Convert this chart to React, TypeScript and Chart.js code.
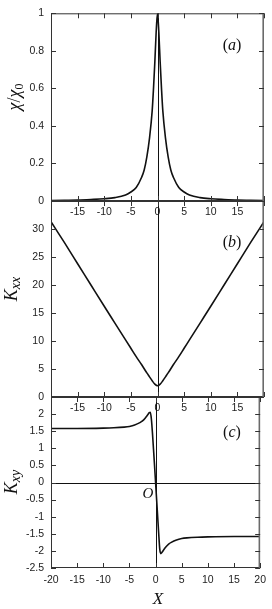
import React, { useEffect, useRef } from 'react';
import { Chart, registerables } from 'chart.js';
Chart.register(...registerables);

// ---------- data ----------
const xTicks = [-20, -15, -10, -5, 0, 5, 10, 15, 20];

const xA = [-20, -17.5, -15, -12.5, -10, -8, -6, -5, -4, -3, -2.5, -2, -1.5, -1, -0.75, -0.5, -0.25, 0,
  0.25, 0.5, 0.75, 1, 1.5, 2, 2.5, 3, 4, 5, 6, 8, 10, 12.5, 15, 17.5, 20];
const chiValues = [0.003, 0.004, 0.005, 0.008, 0.012, 0.018, 0.032, 0.048, 0.072, 0.125, 0.165, 0.235, 0.335, 0.48, 0.6, 0.74, 0.9, 1,
  0.9, 0.74, 0.6, 0.48, 0.335, 0.235, 0.165, 0.125, 0.072, 0.048, 0.032, 0.018, 0.012, 0.008, 0.005, 0.004, 0.003];

const xB = [-20, -17.5, -15, -12.5, -10, -8, -6, -5, -4, -3, -2, -1.5, -1, -0.5, 0,
  0.5, 1, 1.5, 2, 3, 4, 5, 6, 8, 10, 12.5, 15, 17.5, 20];
const kxxValues = [31.3, 27.6, 23.8, 20.0, 16.2, 13.2, 10.2, 8.7, 7.2, 5.8, 4.3, 3.6, 2.9, 2.3, 2.0,
  2.3, 2.9, 3.6, 4.3, 5.8, 7.2, 8.7, 10.2, 13.2, 16.2, 20.0, 23.8, 27.6, 31.3];

const xC = [-20, -15, -10, -8, -6, -5, -4, -3, -2.5, -2, -1.5, -1.2, -1, -0.8, -0.6, -0.4, -0.2, 0,
  0.2, 0.4, 0.6, 0.8, 1, 1.2, 1.5, 2, 2.5, 3, 4, 5, 6, 8, 10, 15, 20];
const kxyValues = [1.58, 1.58, 1.59, 1.6, 1.62, 1.64, 1.68, 1.75, 1.8, 1.88, 1.98, 2.04, 2.05, 1.85, 1.45, 0.98, 0.5, 0,
  -0.5, -1.0, -1.5, -1.95, -2.08, -2.05, -1.98, -1.88, -1.8, -1.75, -1.68, -1.64, -1.62, -1.6, -1.59, -1.58, -1.58];

// ---------- styling ----------
const SANS = '"Liberation Sans", Arial, Helvetica, sans-serif';
const SERIF = '"Liberation Serif", "Times New Roman", serif';
const INK = '#111';
const AXIS = '#333';

type Part = { t: string; italic?: boolean; size: number; dy?: number };

function drawParts(ctx: CanvasRenderingContext2D, parts: Part[], cx: number, cy: number, base: number, rotate: boolean) {
  ctx.save();
  ctx.translate(cx, cy);
  if (rotate) ctx.rotate(-Math.PI / 2);
  const widths = parts.map((p) => {
    ctx.font = `${p.italic ? 'italic ' : ''}${p.size}px ${SERIF}`;
    return ctx.measureText(p.t).width;
  });
  const total = widths.reduce((a, b) => a + b, 0);
  let x = -total / 2;
  ctx.textAlign = 'left';
  ctx.textBaseline = 'alphabetic';
  ctx.fillStyle = INK;
  parts.forEach((p, i) => {
    ctx.font = `${p.italic ? 'italic ' : ''}${p.size}px ${SERIF}`;
    ctx.fillText(p.t, x, base + (p.dy || 0));
    x += widths[i];
  });
  ctx.restore();
}

type Label = { parts: Part[]; x: number; y: number; base: number; rotate: boolean };

function makeDecor(labels: Label[], hZero: boolean) {
  return {
    id: 'decor',
    beforeDatasetsDraw(chart: any) {
      const { ctx, chartArea } = chart;
      const xs = chart.scales.x;
      const ys = chart.scales.y;
      ctx.save();
      ctx.strokeStyle = INK;
      ctx.lineWidth = 1;
      const x0 = Math.round(xs.getPixelForValue(0)) + 0.5;
      ctx.beginPath();
      ctx.moveTo(x0, chartArea.top);
      ctx.lineTo(x0, chartArea.bottom);
      ctx.stroke();
      if (hZero) {
        const y0 = Math.round(ys.getPixelForValue(0)) + 0.5;
        ctx.beginPath();
        ctx.moveTo(chartArea.left, y0);
        ctx.lineTo(chartArea.right, y0);
        ctx.stroke();
      }
      ctx.restore();
    },
    afterDraw(chart: any) {
      const { ctx, chartArea } = chart;
      const { left, right, top, bottom } = chartArea;
      const xs = chart.scales.x;
      const ys = chart.scales.y;
      ctx.save();
      ctx.strokeStyle = AXIS;
      ctx.lineWidth = 1;
      ctx.beginPath();
      ctx.moveTo(left + 0.5, top);
      ctx.lineTo(left + 0.5, bottom);
      ctx.moveTo(left, top + 0.5);
      ctx.lineTo(right, top + 0.5);
      ctx.moveTo(left, bottom - 0.5);
      ctx.lineTo(right, bottom - 0.5);
      ctx.stroke();
      ctx.strokeStyle = '#6a6a6a';
      ctx.lineWidth = 1.6;
      ctx.beginPath();
      ctx.moveTo(right - 0.8, top);
      ctx.lineTo(right - 0.8, bottom);
      ctx.stroke();
      // inward ticks
      ctx.strokeStyle = AXIS;
      ctx.lineWidth = 1;
      const L = 5;
      ctx.beginPath();
      xs.ticks.forEach((t: any) => {
        const px = Math.round(xs.getPixelForValue(t.value)) + 0.5;
        ctx.moveTo(px, bottom);
        ctx.lineTo(px, bottom - L);
        ctx.moveTo(px, top);
        ctx.lineTo(px, top + L);
      });
      ys.ticks.forEach((t: any) => {
        const py = Math.round(ys.getPixelForValue(t.value)) + 0.5;
        ctx.moveTo(left, py);
        ctx.lineTo(left + L, py);
        ctx.moveTo(right, py);
        ctx.lineTo(right - L, py);
      });
      ctx.stroke();
      ctx.restore();
      labels.forEach((lb) => drawParts(ctx, lb.parts, lb.x, lb.y, lb.base, lb.rotate));
    },
  };
}

const fmt = (v: number) => String(Math.round(v * 100) / 100);

type PanelCfg = {
  xs: number[];
  ys: number[];
  yMin: number;
  yMax: number;
  yStep: number;
  hideTopY: boolean;
  xLabelsAll: boolean;
  padTop: number;
  padBottom: number;
  xTickPad: number;
  labels: Label[];
  hZero: boolean;
};

function makeConfig(c: PanelCfg): any {
  const data = c.xs.map((x, i) => ({ x, y: c.ys[i] }));
  return {
    type: 'line',
    data: {
      datasets: [
        {
          data,
          borderColor: INK,
          borderWidth: 1.6,
          pointRadius: 0,
          fill: false,
          cubicInterpolationMode: 'monotone',
        },
      ],
    },
    options: {
      responsive: false,
      animation: false,
      devicePixelRatio: 1,
      events: [],
      layout: { padding: { left: 0, right: 8, top: c.padTop, bottom: c.padBottom } },
      plugins: { legend: { display: false }, tooltip: { enabled: false }, title: { display: false } },
      scales: {
        x: {
          type: 'linear',
          min: -20,
          max: 20,
          afterBuildTicks: (s: any) => {
            s.ticks = xTicks.map((v) => ({ value: v }));
          },
          ticks: {
            autoSkip: false,
            maxRotation: 0,
            minRotation: 0,
            padding: c.xTickPad,
            color: '#222',
            font: { family: SANS, size: 10.5 },
            callback: (v: number) => (c.xLabelsAll || Math.abs(v) < 20 ? fmt(v) : ''),
          },
          grid: { display: false, drawTicks: false },
          border: { display: false },
          afterFit: (s: any) => {
            s.height = 20;
          },
        },
        y: {
          type: 'linear',
          min: c.yMin,
          max: c.yMax,
          ticks: {
            stepSize: c.yStep,
            autoSkip: false,
            padding: 7,
            color: '#222',
            font: { family: SANS, size: 10.5 },
            callback: (v: number) => (c.hideTopY && Math.abs(v - c.yMax) < 1e-6 ? '' : fmt(v)),
          },
          grid: { display: false, drawTicks: false },
          border: { display: false },
          afterFit: (s: any) => {
            s.width = 51;
          },
        },
      },
    },
    plugins: [makeDecor(c.labels, c.hZero)],
  };
}

const H = 609;
const W = 272;

export default function App() {
  const refA = useRef<HTMLCanvasElement>(null);
  const refB = useRef<HTMLCanvasElement>(null);
  const refC = useRef<HTMLCanvasElement>(null);

  useEffect(() => {
    const panelLabel = (letter: string, x: number, y: number): Label => ({
      parts: [
        { t: '(', size: 16 },
        { t: letter, italic: true, size: 16 },
        { t: ')', size: 16 },
      ],
      x,
      y,
      base: 5,
      rotate: false,
    });

    const cfgA = makeConfig({
      xs: xA,
      ys: chiValues,
      yMin: 0,
      yMax: 1,
      yStep: 0.2,
      hideTopY: false,
      xLabelsAll: false,
      padTop: 5,
      padBottom: H - 201 - 20,
      xTickPad: 5,
      hZero: false,
      labels: [
        panelLabel('a', 232, 45),
        {
          parts: [
            { t: 'χ', italic: true, size: 18 },
            { t: '/', size: 18 },
            { t: 'χ', italic: true, size: 18 },
            { t: '0', size: 12, dy: 3 },
          ],
          x: 15,
          y: 97,
          base: 5,
          rotate: true,
        },
      ],
    });
    const cfgB = makeConfig({
      xs: xB,
      ys: kxxValues,
      yMin: 0,
      yMax: 35,
      yStep: 5,
      hideTopY: true,
      xLabelsAll: false,
      padTop: 201,
      padBottom: H - 397 - 20,
      xTickPad: 5,
      hZero: false,
      labels: [
        panelLabel('b', 232, 242),
        {
          parts: [
            { t: 'K', italic: true, size: 18 },
            { t: 'xx', italic: true, size: 14, dy: 3 },
          ],
          x: 11,
          y: 289,
          base: 6,
          rotate: true,
        },
      ],
    });
    const cfgC = makeConfig({
      xs: xC,
      ys: kxyValues,
      yMin: -2.5,
      yMax: 2.5,
      yStep: 0.5,
      hideTopY: true,
      xLabelsAll: true,
      padTop: 397,
      padBottom: H - 568 - 20,
      xTickPad: 6,
      hZero: true,
      labels: [
        panelLabel('c', 232, 432),
        {
          parts: [
            { t: 'K', italic: true, size: 18 },
            { t: 'xy', italic: true, size: 14, dy: 3 },
          ],
          x: 11,
          y: 482,
          base: 6,
          rotate: true,
        },
        { parts: [{ t: 'O', italic: true, size: 15 }], x: 148, y: 493, base: 5, rotate: false },
        { parts: [{ t: 'X', italic: true, size: 17 }], x: 158, y: 598, base: 6, rotate: false },
      ],
    });

    const charts = [
      new Chart(refA.current as HTMLCanvasElement, cfgA),
      new Chart(refB.current as HTMLCanvasElement, cfgB),
      new Chart(refC.current as HTMLCanvasElement, cfgC),
    ];
    return () => charts.forEach((ch) => ch.destroy());
  }, []);

  const cs: React.CSSProperties = { position: 'absolute', left: 0, top: 0, width: W, height: H };
  return (
    <div style={{ position: 'fixed', left: 0, top: 0, width: W, height: H, background: '#fff', overflow: 'hidden' }}>
      <canvas ref={refA} width={W} height={H} style={cs} />
      <canvas ref={refB} width={W} height={H} style={cs} />
      <canvas ref={refC} width={W} height={H} style={cs} />
    </div>
  );
}
